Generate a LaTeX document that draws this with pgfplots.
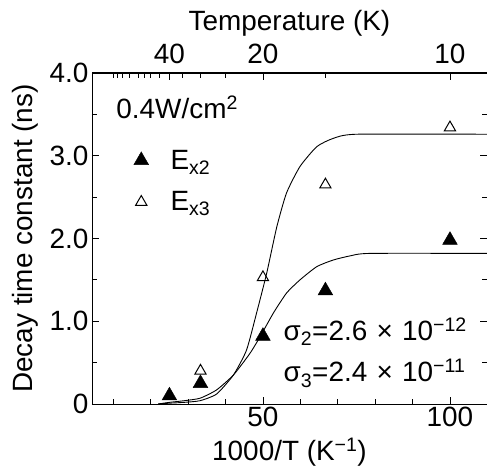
\documentclass[border=0pt]{standalone}
\usepackage{fontspec}
\setmainfont{Liberation Sans}
\usepackage{pgfplots}
\pgfplotsset{compat=1.18}

\begin{document}
\begin{tikzpicture}
\pgfplotsset{
  every axis/.append style={
    font=\fontsize{28}{33}\selectfont,
    width=395bp, height=331bp, scale only axis,
    xmin=4.3, xmax=109.9, ymin=0, ymax=4,
    tick align=inside,
    major tick length=7bp, minor tick length=5bp,
    every tick/.style={black, line width=0.8pt},
    axis line style={line width=1pt},
    /pgf/number format/assume math mode=true,
  },
}
% top axis: temperature
\begin{axis}[
    xtick pos=right, xticklabel pos=right,
    xtick={25,50,100}, xticklabels={40,20,10},
    minor xtick={10,11.111,12.5,14.286,16.667,18.182,20,22.222,28.571,33.333,40,66.667},
    xticklabel style={yshift=6bp},
    xlabel={Temperature (K)},
    xlabel style={at={(rel axis cs:0.5,1)}, anchor=center, yshift=50bp},
    ytick=\empty,
]
\end{axis}
% main axis
\begin{axis}[
    name=m,
    xtick pos=left, xticklabel pos=left,
    xtick={50,100}, minor xtick={10,20,30,40,60,70,80,90},
    ytick={0,1,2,3,4}, yticklabels={0,1.0,2.0,3.0,4.0},
    minor ytick={0.5,1.5,2.5,3.5},
    ytick pos=both, yticklabel pos=left,
    xlabel={1000/T (K\textsuperscript{−1})},
    xlabel style={at={(rel axis cs:0.5,0)}, anchor=center, yshift=-48bp},
    ylabel={Decay time constant (ns)},
    ylabel style={at={(rel axis cs:0,0.5)}, anchor=center, yshift=67bp},
    legend style={draw=none, fill=none, at={(0.098,0.78)}, anchor=north west,
      row sep=17bp, font=\fontsize{28}{33}\selectfont,
      /tikz/every odd column/.append style={column sep=20bp}},
    legend cell align=left,
]
% fitted curves
\addplot[black, line width=0.9pt, smooth, tension=0.35, forget plot] coordinates {
  (22,0.0) (25,0.02) (29,0.04) (33.2,0.07) (37.6,0.17) (42.1,0.35) (46.5,0.61)
  (49.2,0.81) (52.8,1.10) (56.3,1.34) (59.9,1.50) (64.4,1.66) (68.8,1.74)
  (73.3,1.79) (78.6,1.82) (110,1.82)
};
\addplot[black, line width=0.9pt, smooth, tension=0.35, forget plot] coordinates {
  (22,0.0) (25,0.01) (29,0.02) (33.2,0.04) (37.6,0.12) (42.1,0.35) (45.6,0.65)
  (48.3,1.10) (51.0,1.58) (53.7,2.14) (56.3,2.55) (59.9,2.87) (64.4,3.11)
  (68.8,3.21) (75,3.26) (110,3.26)
};
% measured points
\addplot[only marks, mark=triangle*, mark size=8.5bp, black] coordinates {
  (25,0.10) (33.3,0.25) (50,0.82) (66.7,1.37) (100,1.98)
};
\addlegendentry{E\textsubscript{x2}}
\addplot[only marks, mark=triangle, mark size=6.5bp, black,
  mark options={fill=white, line width=1pt}] coordinates {
  (33.3,0.40) (50,1.53) (66.7,2.65) (100,3.34)
};
\addlegendentry{E\textsubscript{x3}}
\node[anchor=west] at (axis cs:9.9,3.58) {0.4W/cm\textsuperscript{2}};
\node[anchor=west] at (axis cs:54.6,0.87) {σ\textsubscript{2}=2.6\,\,×\,\,10\textsuperscript{−12}};
\node[anchor=west] at (axis cs:54.6,0.37) {σ\textsubscript{3}=2.4\,\,×\,\,10\textsuperscript{−11}};
\end{axis}
\pgfresetboundingbox
\path[use as bounding box] ([shift={(-92bp,-69bp)}]m.south west) rectangle ([shift={(0bp,73bp)}]m.north east);
\end{tikzpicture}
\end{document}
